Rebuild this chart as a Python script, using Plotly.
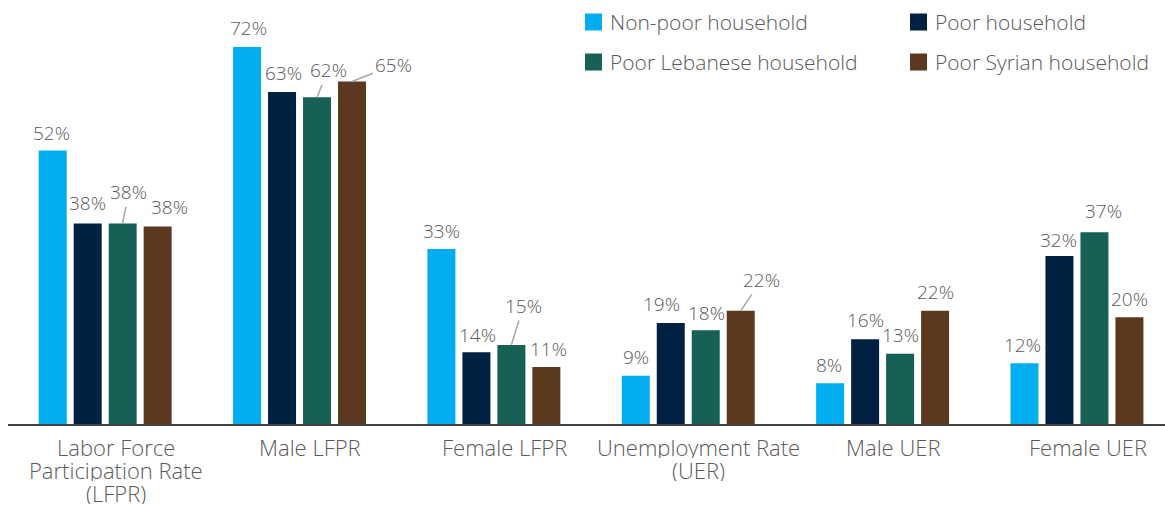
import plotly.graph_objects as go

categories = ["Labor Force<br>Participation Rate<br>(LFPR)", "Male LFPR", "Female LFPR",
              "Unemployment Rate<br>(UER)", "Male UER", "Female UER"]
series_names = ["Non-poor household", "Poor household", "Poor Lebanese household", "Poor Syrian household"]
non_poor = [52.2, 72.0, 33.4, 9.2, 7.8, 11.6]
poor = [38.3, 63.4, 13.7, 19.3, 16.2, 32.1]
poor_lebanese = [38.3, 62.4, 15.1, 17.9, 13.4, 36.6]
poor_syrian = [37.7, 65.4, 10.9, 21.6, 21.6, 20.4]
series_values = [non_poor, poor, poor_lebanese, poor_syrian]

colors = ["#00AEEF", "#012142", "#176055", "#5C391E"]
FONT = "Open Sans"
TXT = "#595959"
W = 300

# label placement tweaks (dx px, dy px above bar top, leader line?) per series / category
label_style = {
    (0, 0): (-1, 18, False), (1, 0): (0, 20, False), (2, 0): (6, 31, True), (3, 0): (12, 20, False),
    (0, 1): (1, 19, False), (1, 1): (1, 19, False), (2, 1): (11, 27, True), (3, 1): (41, 16, True),
    (0, 2): (0, 18, False), (1, 2): (1, 17, False), (2, 2): (12, 39, True), (3, 2): (2, 18, False),
    (0, 3): (0, 19, False), (1, 3): (-9, 19, False), (2, 3): (1, 17, False), (3, 3): (21, 31, True),
    (0, 4): (-1, 18, False), (1, 4): (0, 19, False), (2, 4): (0, 19, False), (3, 4): (0, 19, False),
    (0, 5): (-2, 18, False), (1, 5): (-1, 16, False), (2, 5): (9, 21, False), (3, 5): (0, 18, False),
}

x = list(range(len(categories)))
fig = go.Figure()
for name, vals, col in zip(series_names, series_values, colors):
    fig.add_trace(go.Bar(name=name, x=x, y=vals, marker=dict(color=col, line=dict(width=0)),
                         showlegend=False, hoverinfo="name+y"))

slot = 0.18
offsets = [-1.5 * slot, -0.5 * slot, 0.5 * slot, 1.5 * slot]
annotations = []
for s, vals in enumerate(series_values):
    for c, v in enumerate(vals):
        dx, dy, leader = label_style[(s, c)]
        base = dict(x=c + offsets[s], y=v, xref="x", yref="y", text=f"{round(v)}%",
                    font=dict(family=FONT, size=19, color=TXT, weight=W))
        if leader:
            annotations.append(dict(**base, showarrow=True, arrowhead=0, arrowwidth=1.5,
                                    arrowcolor="#A6A6A6", ax=dx, ay=-dy, standoff=0))
        else:
            annotations.append(dict(**base, showarrow=False, xanchor="center", yanchor="middle",
                                    xshift=dx, yshift=dy))

# category labels below the axis (tight line spacing as in the reference)
for c, lab in enumerate(categories):
    for k, line in enumerate(lab.split("<br>")):
        annotations.append(dict(x=c + 0.055, y=0, xref="x", yref="y", text=line, showarrow=False,
                                xanchor="center", yanchor="middle", yshift=-(22 + 23 * k),
                                height=23, borderpad=0,
                                font=dict(family=FONT, size=22, color=TXT, weight=W)))

# legend (two columns, two rows)
plot_l, plot_w, plot_t, plot_h = 8, 1157, 5, 419
leg_pos = [(585, 22), (910, 22), (585, 62), (910, 62)]
shapes = []
for (px, py), name, col in zip(leg_pos, series_names, colors):
    fx = (px - plot_l) / plot_w
    fy = 1 - (py - plot_t) / plot_h
    shapes.append(dict(type="rect", xref="paper", yref="paper", xsizemode="pixel", ysizemode="pixel",
                       xanchor=fx, yanchor=fy, x0=0, x1=17, y0=-8.5, y1=8.5,
                       fillcolor=col, line=dict(width=0)))
    annotations.append(dict(x=fx, y=fy, xref="paper", yref="paper", text=name, showarrow=False,
                            xanchor="left", yanchor="middle", xshift=23,
                            font=dict(family=FONT, size=21, color=TXT, weight=W)))

fig.update_layout(
    width=1165, height=507,
    margin=dict(l=8, r=0, t=5, b=83, autoexpand=False),
    barmode="group", bargap=0.28, bargroupgap=0.2,
    plot_bgcolor="white", paper_bgcolor="white",
    annotations=annotations, shapes=shapes,
    font=dict(family=FONT, color=TXT, weight=W),
)
fig.update_xaxes(range=[-0.5, 5.453], tickmode="array", tickvals=x, showticklabels=False,
                 showline=True, linecolor="#404040", linewidth=1.5,
                 showgrid=False, zeroline=False, ticks="", automargin=False)
fig.update_yaxes(range=[0, 80], visible=False, showgrid=False, zeroline=False)

fig.write_html("out.html", config={"displayModeBar": False},
               post_script="document.body.style.margin='0';document.body.style.overflow='hidden';")
